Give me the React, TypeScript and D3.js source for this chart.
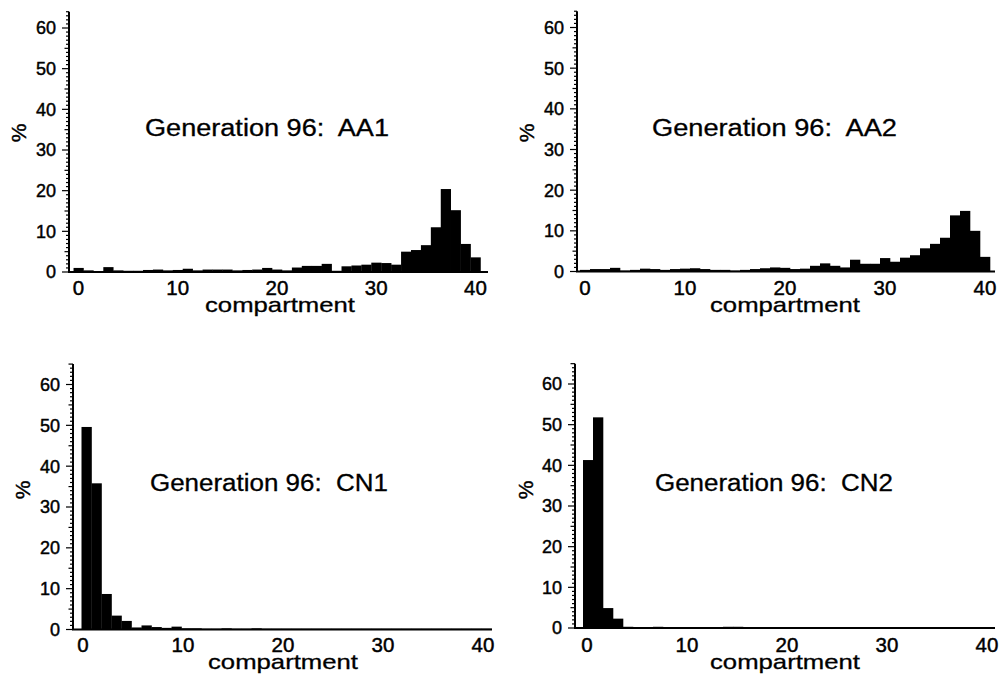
import React from "react";
import * as d3 from "d3";

const compartments = d3.range(0, 41);
const aa1 = [1.0, 0.4, 0.1, 1.2, 0.4, 0.3, 0.3, 0.5, 0.6, 0.4, 0.5, 0.8, 0.4, 0.6, 0.6, 0.6, 0.4, 0.5, 0.6, 1.0, 0.6, 0.4, 1.1, 1.5, 1.5, 2.0, 0.3, 1.4, 1.6, 1.8, 2.3, 2.2, 1.8, 5.0, 5.4, 6.6, 11.0, 20.4, 15.2, 6.9, 3.6];
const aa2 = [0.4, 0.6, 0.6, 0.9, 0.2, 0.4, 0.7, 0.6, 0.4, 0.6, 0.7, 0.8, 0.6, 0.4, 0.4, 0.2, 0.4, 0.6, 0.8, 1.0, 0.9, 0.6, 0.7, 1.4, 2.0, 1.4, 1.0, 2.9, 1.9, 1.9, 3.3, 2.4, 3.4, 4.0, 5.7, 6.8, 8.3, 13.8, 14.9, 10.0, 3.6];
const cn1 = [49.6, 35.8, 8.7, 3.4, 2.1, 0.5, 1.0, 0.6, 0.4, 0.7, 0.3, 0.3, 0.2, 0.2, 0.3, 0.2, 0.2, 0.3, 0.2, 0.2, 0.2, 0.2, 0.2, 0.2, 0.2, 0.2, 0.2, 0.2, 0.2, 0.2, 0.2, 0.2, 0.2, 0.2, 0.2, 0.2, 0.2, 0.2, 0.2, 0.2, 0.2];
const cn2 = [41.3, 51.8, 4.9, 2.3, 0.3, 0.2, 0.2, 0.3, 0.2, 0.2, 0.2, 0.2, 0.2, 0.2, 0.3, 0.3, 0.2, 0.2, 0.2, 0.2, 0.2, 0.2, 0.2, 0.2, 0.2, 0.2, 0.2, 0.2, 0.2, 0.2, 0.2, 0.2, 0.2, 0.2, 0.2, 0.2, 0.2, 0.2, 0.2, 0.2, 0.2];
const titles = ["Generation 96:\u00A0 AA1", "Generation 96:\u00A0 AA2", "Generation 96:\u00A0 CN1", "Generation 96:\u00A0 CN2"];
const xTicks = [0, 10, 20, 30, 40];
const yTicks = [0, 10, 20, 30, 40, 50, 60];
const xLabel = "compartment";
const yLabel = "%";

const series = [aa1, aa2, cn1, cn2];

// layout per panel (pixel geometry)
const layouts = [
  { axisX: 69, base: 272, y60: 28, yTop: 64, x0: 78.5, x40: 475.5, xEnd: 488, shift: 0, titleX: 145, titleW: 244, titleY: 136, labelY: 295, xLabelX: 280, xLabelY: 312, pctX: 19, pctY: 133 },
  { axisX: 577, base: 271.5, y60: 27.5, yTop: 64, x0: 585, x40: 985, xEnd: 995, shift: 0, titleX: 652, titleW: 245, titleY: 136, labelY: 295, xLabelX: 785, xLabelY: 312, pctX: 527, pctY: 133 },
  { axisX: 73, base: 629.5, y60: 384.5, yTop: 65, x0: 83, x40: 483, xEnd: 492, shift: 3.5, titleX: 150, titleW: 238, titleY: 491, labelY: 652, xLabelX: 283, xLabelY: 669, pctX: 23, pctY: 490 },
  { axisX: 575, base: 628, y60: 384, yTop: 65, x0: 587, x40: 987, xEnd: 995, shift: 1, titleX: 655, titleW: 238, titleY: 491, labelY: 652, xLabelX: 785, xLabelY: 669, pctX: 526, pctY: 490 },
];

const font = "'Liberation Sans', Arial, Helvetica, sans-serif";
const ink = { fill: "#000", stroke: "#000", strokeWidth: 0.45, fontFamily: font };

function Panel({ data, layout, title }: { data: number[]; layout: any; title: string }) {
  const x = d3.scaleLinear().domain([0, 40]).range([layout.x0, layout.x40]);
  const y = d3.scaleLinear().domain([0, 60]).range([layout.base, layout.y60]);
  const minor = d3.range(0, layout.yTop + 1);
  return (
    <g>
      {compartments.map((k, i) => {
        const v = data[i];
        const x1 = x(k - 0.5) + layout.shift;
        const x2 = x(k + 0.5) + layout.shift;
        return <rect key={k} x={x1} y={y(v)} width={x2 - x1 + 0.3} height={layout.base - y(v)} fill="#000" />;
      })}
      <line x1={layout.axisX} x2={layout.axisX} y1={y(0)} y2={y(layout.yTop)} stroke="#000" strokeWidth={2} />
      <line x1={layout.axisX - 1} x2={layout.xEnd} y1={layout.base} y2={layout.base} stroke="#000" strokeWidth={2} />
      {minor.map((t) => {
        const len = t % 10 === 0 ? 7 : t % 5 === 0 ? 4.5 : 3;
        return <line key={t} x1={layout.axisX - len} x2={layout.axisX} y1={y(t)} y2={y(t)} stroke="#000" strokeWidth={1.2} />;
      })}
      {yTicks.map((t) => (
        <text key={t} x={layout.axisX - 13} y={y(t)} dy="0.36em" textAnchor="end" fontSize={18} {...ink}>
          {t}
        </text>
      ))}
      {xTicks.map((t) => (
        <text key={t} x={x(t)} y={layout.labelY} textAnchor="middle" fontSize={20.5} {...ink}>
          {t}
        </text>
      ))}
      <text x={layout.xLabelX} y={layout.xLabelY} textAnchor="middle" fontSize={21} textLength={150} lengthAdjust="spacingAndGlyphs" {...ink} strokeWidth={0.3}>
        {xLabel}
      </text>
      <text transform={`translate(${layout.pctX},${layout.pctY}) rotate(-90)`} dy="0.35em" textAnchor="middle" fontSize={21} {...ink}>
        {yLabel}
      </text>
      <text x={layout.titleX} y={layout.titleY} fontSize={23} textLength={layout.titleW} lengthAdjust="spacingAndGlyphs" {...ink} strokeWidth={0.3}>
        {title}
      </text>
    </g>
  );
}

export default function App() {
  return (
    <svg width={999} height={684} style={{ position: "absolute", left: 0, top: 0, background: "#fff" }}>
      <rect width={999} height={684} fill="#fff" />
      {series.map((d, i) => (
        <Panel key={i} data={d} layout={layouts[i]} title={titles[i]} />
      ))}
    </svg>
  );
}
